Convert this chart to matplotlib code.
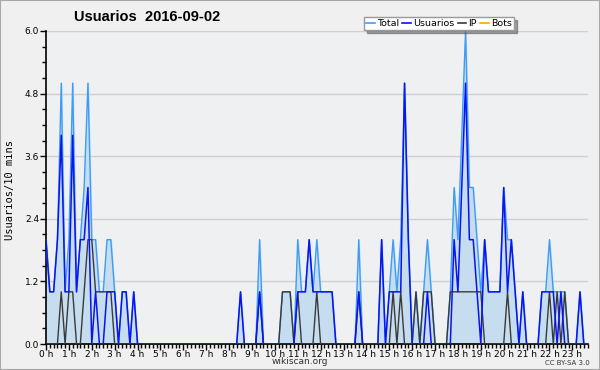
#importing libraries
import numpy as np
import matplotlib
matplotlib.use('Agg')
import matplotlib.pyplot as plt
from matplotlib.lines import Line2D
from matplotlib.patches import Rectangle

# data: one value per 10 minutes (6 per hour, 0 h .. 23 h 50)
total = [2, 1, 1, 2, 5, 1,   2, 5, 1, 2, 3, 5,   2, 2, 1, 1, 2, 2,   1, 0, 1, 1, 0, 1,
         0, 0, 0, 0, 0, 0,   0, 0, 0, 0, 0, 0,   0, 0, 0, 0, 0, 0,   0, 0, 0, 0, 0, 0,
         0, 0, 0, 1, 0, 0,   0, 0, 2, 0, 0, 0,   0, 0, 1, 1, 1, 0,   2, 1, 1, 2, 1, 2,
         1, 1, 1, 1, 0, 0,   0, 0, 0, 0, 2, 0,   0, 0, 0, 0, 2, 0,   1, 2, 1, 2, 5, 2,
         0, 1, 0, 1, 2, 1,   0, 0, 0, 0, 1, 3,   2, 4, 6, 3, 3, 2,   1, 2, 1, 1, 1, 1,
         3, 2, 2, 1, 0, 1,   0, 0, 0, 0, 1, 1,   2, 1, 1, 1, 1, 0,   0, 0, 1, 0, 0, 0]
usuarios = [2, 1, 1, 2, 4, 1,   1, 4, 1, 2, 2, 3,   0, 1, 0, 0, 1, 1,   1, 0, 1, 1, 0, 1,
            0, 0, 0, 0, 0, 0,   0, 0, 0, 0, 0, 0,   0, 0, 0, 0, 0, 0,   0, 0, 0, 0, 0, 0,
            0, 0, 0, 1, 0, 0,   0, 0, 1, 0, 0, 0,   0, 0, 0, 0, 0, 0,   1, 1, 1, 2, 1, 1,
            1, 1, 1, 1, 0, 0,   0, 0, 0, 0, 1, 0,   0, 0, 0, 0, 2, 0,   1, 1, 1, 1, 5, 2,
            0, 0, 0, 0, 1, 0,   0, 0, 0, 0, 0, 2,   1, 3, 5, 2, 2, 1,   0, 2, 1, 1, 1, 1,
            3, 1, 2, 1, 0, 1,   0, 0, 0, 0, 1, 1,   1, 1, 0, 1, 0, 0,   0, 0, 1, 0, 0, 0]
ip = [0, 0, 0, 0, 1, 0,   1, 1, 0, 0, 1, 2,   2, 1, 1, 1, 1, 1,   0, 0, 0, 0, 0, 0,
      0, 0, 0, 0, 0, 0,   0, 0, 0, 0, 0, 0,   0, 0, 0, 0, 0, 0,   0, 0, 0, 0, 0, 0,
      0, 0, 0, 0, 0, 0,   0, 0, 1, 0, 0, 0,   0, 0, 1, 1, 1, 0,   1, 0, 0, 0, 0, 1,
      0, 0, 0, 0, 0, 0,   0, 0, 0, 0, 1, 0,   0, 0, 0, 0, 0, 0,   0, 1, 0, 1, 0, 0,
      0, 1, 0, 1, 1, 1,   0, 0, 0, 0, 1, 1,   1, 1, 1, 1, 1, 1,   1, 0, 0, 0, 0, 0,
      0, 1, 0, 0, 0, 0,   0, 0, 0, 0, 0, 0,   1, 0, 1, 0, 1, 0,   0, 0, 0, 0, 0, 0]
bots = [0] * 144
hour_labels = ['%d h' % h for h in range(24)]

x = np.arange(len(total))

fig = plt.figure(figsize=(6, 3.7), dpi=100, facecolor='#f0f0f0')
fig.patches.append(Rectangle((0, 0), 1, 1, transform=fig.transFigure, fill=False,
                             edgecolor='#a8a8a8', linewidth=1.5))
ax = fig.add_axes([46 / 600, 26 / 370, 542 / 600, 313 / 370])
ax.set_facecolor('#eef0f2')

# gridlines
for v in [1.2, 2.4, 3.6, 4.8, 6.0]:
    ax.axhline(v, color='#cfcfcf', linewidth=1, zorder=0)

ax.fill_between(x, total, color='#c6ddf0', zorder=1)
ax.plot(x, bots, color='#ffa500', linewidth=1, zorder=2)
ax.plot(x, total, color='#3d9df5', linewidth=1.0, zorder=3)
ax.plot(x, ip, color='#3a3a3a', linewidth=1.0, zorder=4)
ax.plot(x, usuarios, color='#0a14f0', linewidth=1.1, zorder=5)

ax.set_xlim(0, 142.1)
ax.set_ylim(0, 6.0)
for s in ['top', 'right']:
    ax.spines[s].set_visible(False)
ax.spines['left'].set_linewidth(1.2)
ax.spines['bottom'].set_linewidth(1.2)

ax.set_xticks(np.arange(0, 144, 6))
ax.set_xticklabels(hour_labels, fontsize=6.5)
ax.set_xticks(np.arange(0, 143), minor=True)
ax.set_yticks([0, 1.2, 2.4, 3.6, 4.8, 6.0])
ax.set_yticklabels(['0.0', '1.2', '2.4', '3.6', '4.8', '6.0'], fontsize=6.5)
ax.set_yticks(np.arange(0, 6.01, 0.3), minor=True)
ax.tick_params(axis='x', which='major', length=4, pad=0, width=1)
ax.tick_params(axis='x', which='minor', length=3, width=1)
ax.tick_params(axis='y', which='major', length=4, pad=1, width=1)
ax.tick_params(axis='y', which='minor', length=3, width=1)

fig.text(10 / 600, 1 - 190 / 370, 'Usuarios/10 mins', rotation=90, ha='center', va='center',
         fontsize=7.5, family='DejaVu Sans Mono')
fig.text(74 / 600, 1 - 17 / 370, 'Usuarios  2016-09-02', fontsize=10.5, fontweight='bold',
         family='Liberation Sans', ha='left', va='center')
fig.text(300 / 600, 1 - 362 / 370, 'wikiscan.org', fontsize=6.5, ha='center', va='center',
         color='#333333')
fig.text(590 / 600, 1 - 363 / 370, 'CC BY-SA 3.0', fontsize=5, ha='right', va='center',
         color='#333333')

handles = [Line2D([], [], color='#3d9df5', lw=1.2),
           Line2D([], [], color='#0a14f0', lw=1.2),
           Line2D([], [], color='#3a3a3a', lw=1.2),
           Line2D([], [], color='#ffa500', lw=1.2)]
leg = fig.legend(handles, ['Total', 'Usuarios', 'IP', 'Bots'], ncol=4,
                 loc='upper right', bbox_to_anchor=(514 / 600, 1 - 17 / 370),
                 fontsize=6.8, frameon=True, fancybox=False, shadow=True,
                 handlelength=0.9, handletextpad=0.25, columnspacing=0.35,
                 borderpad=0.2, borderaxespad=0)
leg.get_frame().set_edgecolor('#999999')
leg.get_frame().set_facecolor('white')
leg.set_zorder(10)

fig.savefig('out.png', dpi=100, facecolor=fig.get_facecolor())
